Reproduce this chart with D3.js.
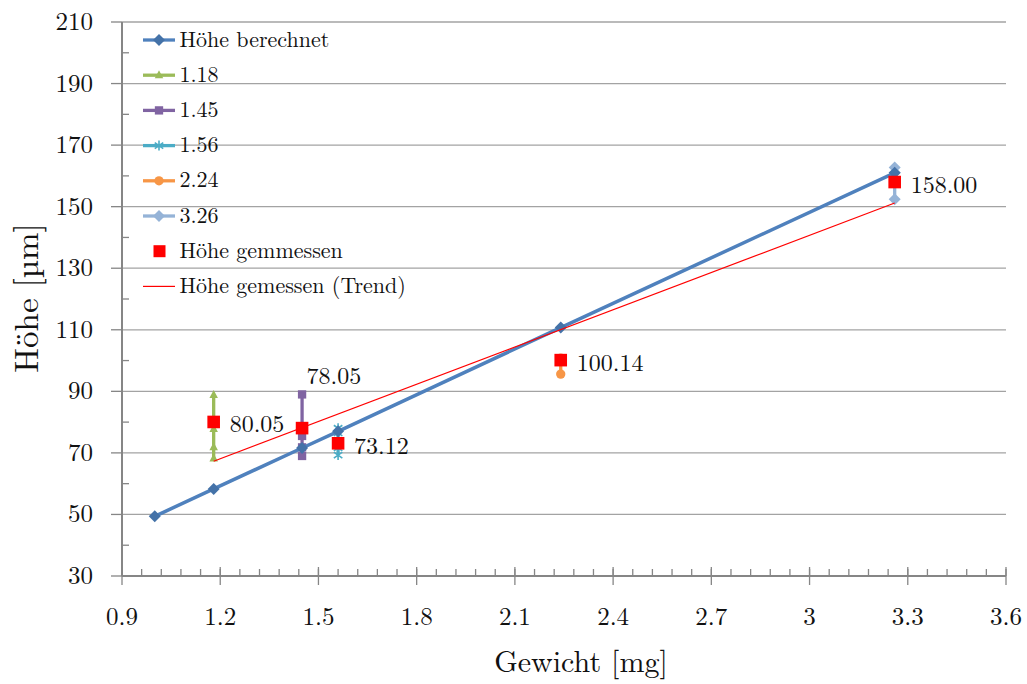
<!DOCTYPE html>
<meta charset="utf-8">
<style>
body{ margin:0; background:#fff; }
</style>
<div id="chart"></div>
<script src="https://cdn.jsdelivr.net/npm/d3@7"></script>
<script>
// computed height line
var calcX = [1.0, 1.18, 1.45, 1.56, 2.24, 3.26]
var calcY = [49.4, 58.3, 71.6, 77.0, 110.7, 161.0]

// single measurements per weight
var measX = [1.18, 1.45, 1.56, 2.24, 3.26]
var measNames = ['1.18', '1.45', '1.56', '2.24', '3.26']
var measVals = [
  [88.8, 80.0, 77.8, 71.8, 68.2],
  [89.0, 78.0, 75.5, 71.8, 69.0],
  [78.0, 76.5, 73.0, 71.6, 69.3],
  [95.6, 100.2, 100.8],
  [162.7, 161.0, 158.0, 152.4]
]
var meanVals = [80.05, 78.05, 73.12, 100.14, 158.00]
var meanLabels = ['80.05', '78.05', '73.12', '100.14', '158.00']

var xTicks = [0.9, 1.2, 1.5, 1.8, 2.1, 2.4, 2.7, 3, 3.3, 3.6]
var yTicks = [30, 50, 70, 90, 110, 130, 150, 170, 190, 210]

var colors = ['#9BBB59', '#8064A2', '#4BACC6', '#F79646', '#95B3D7']
var shapes = ['triangle', 'square', 'asterisk', 'circle', 'diamond']
var msize = [5, 5.2, 5, 5.5, 6]

var W = 1027, H = 684
var m = {l: 122, t: 22, r: 21, b: 108}

var x = d3.scaleLinear().domain([0.9, 3.6]).range([m.l, W - m.r])
var y = d3.scaleLinear().domain([30, 210]).range([H - m.b, m.t])

var svg = d3.select('#chart').append('svg')
    .attr('width', W).attr('height', H)
    .attr('font-family', 'Latin Modern Roman, CMU Serif, Liberation Serif, serif')

function txt(g, tx, ty, s, size, anchor, rot){
  return g.append('text')
    .attr('transform', 'translate(' + tx + ',' + ty + ')' + (rot ? ' rotate(' + rot + ')' : ''))
    .attr('font-size', size).attr('text-anchor', anchor || 'start')
    .attr('fill', '#111')
    .text(s)
}

// grid
svg.append('g').selectAll('line').data(yTicks.slice(1)).join('line')
    .attr('x1', m.l).attr('x2', W - m.r)
    .attr('y1', function(d){ return y(d) }).attr('y2', function(d){ return y(d) })
    .attr('stroke', '#a3a3a3').attr('stroke-width', 1.3)

// axes
var ax = svg.append('g').attr('stroke', '#868686').attr('stroke-width', 1.3)
ax.append('line').attr('x1', m.l).attr('x2', W - m.r)
    .attr('y1', y(30)).attr('y2', y(30)).attr('stroke-width', 2)
ax.append('line').attr('x1', m.l).attr('x2', m.l)
    .attr('y1', y(30)).attr('y2', y(210)).attr('stroke-width', 2)

var xMinor = d3.range(0, 46).map(function(i){ return 0.9 + i * 0.06 })
ax.selectAll('.xm').data(xMinor).join('line')
    .attr('x1', function(d){ return x(d) }).attr('x2', function(d){ return x(d) })
    .attr('y1', y(30) - 7).attr('y2', y(30))
ax.selectAll('.xM').data(xTicks).join('line')
    .attr('x1', function(d){ return x(d) }).attr('x2', function(d){ return x(d) })
    .attr('y1', y(30) - 9).attr('y2', y(30) + 9)
var yMinor = d3.range(40, 210, 20)
ax.selectAll('.ym').data(yMinor).join('line')
    .attr('x1', m.l).attr('x2', m.l + 7)
    .attr('y1', function(d){ return y(d) }).attr('y2', function(d){ return y(d) })
ax.selectAll('.yM').data(yTicks).join('line')
    .attr('x1', m.l - 11).attr('x2', m.l)
    .attr('y1', function(d){ return y(d) }).attr('y2', function(d){ return y(d) })

var gt = svg.append('g')
xTicks.forEach(function(d){ txt(gt, x(d), y(30) + 49, d, 25, 'middle') })
yTicks.forEach(function(d){ txt(gt, 93, y(d) + 8, d, 25, 'end') })

txt(svg, 581, 672, 'Gewicht [mg]', 30, 'middle')
txt(svg, 38, 298, 'Höhe [µm]', 33, 'middle', -90)

function marker(g, shape, cx, cy, color, s){
  if (shape == 'diamond'){
    g.append('path').attr('d', 'M' + cx + ',' + (cy - s) + 'L' + (cx + s) + ',' + cy + 'L' + cx + ',' + (cy + s) + 'L' + (cx - s) + ',' + cy + 'Z')
      .attr('fill', color)
  } else if (shape == 'square'){
    g.append('rect').attr('x', cx - s * 0.8).attr('y', cy - s * 0.8)
      .attr('width', s * 1.6).attr('height', s * 1.6).attr('fill', color)
  } else if (shape == 'triangle'){
    g.append('path').attr('d', 'M' + cx + ',' + (cy - s) + 'L' + (cx + s * 0.85) + ',' + (cy + s * 0.6) + 'L' + (cx - s * 0.85) + ',' + (cy + s * 0.6) + 'Z')
      .attr('fill', color)
  } else if (shape == 'circle'){
    g.append('circle').attr('cx', cx).attr('cy', cy).attr('r', s * 0.85).attr('fill', color)
  } else if (shape == 'asterisk'){
    var p = 'M' + cx + ',' + (cy - s) + 'L' + cx + ',' + (cy + s) +
      'M' + (cx - s * 0.85) + ',' + (cy - s * 0.6) + 'L' + (cx + s * 0.85) + ',' + (cy + s * 0.6) +
      'M' + (cx + s * 0.85) + ',' + (cy - s * 0.6) + 'L' + (cx - s * 0.85) + ',' + (cy + s * 0.6)
    g.append('path').attr('d', p).attr('stroke', color).attr('stroke-width', 1.6).attr('fill', 'none')
  }
}

var line = d3.line().x(function(d){ return x(d[0]) }).y(function(d){ return y(d[1]) })

// measurement series
var gm = svg.append('g')
measVals.forEach(function(vals, i){
  var pts = vals.map(function(v){ return [measX[i], v] })
  gm.append('path').attr('d', line(pts)).attr('fill', 'none')
    .attr('stroke', colors[i]).attr('stroke-width', 3.3)
  pts.forEach(function(p){ marker(gm, shapes[i], x(p[0]), y(p[1]), colors[i], msize[i]) })
})

// calculated line
var calcPts = calcX.map(function(d, i){ return [d, calcY[i]] })
svg.append('path').attr('d', line(calcPts)).attr('fill', 'none')
    .attr('stroke', '#4F81BD').attr('stroke-width', 3.5)
var gc = svg.append('g')
calcPts.forEach(function(p){ marker(gc, 'diamond', x(p[0]), y(p[1]), '#4472A8', 6) })

// trend line (least squares of measured means)
var mx = d3.mean(measX), my = d3.mean(meanVals)
var sxy = d3.sum(measX, function(d, i){ return (d - mx) * (meanVals[i] - my) })
var sxx = d3.sum(measX, function(d){ return (d - mx) * (d - mx) })
var slope = sxy / sxx, icpt = my - slope * mx
var xr = d3.extent(measX)
svg.append('path').attr('d', line(xr.map(function(d){ return [d, icpt + slope * d] })))
    .attr('stroke', '#FF0000').attr('stroke-width', 1.2).attr('fill', 'none')

// mean squares + labels
svg.append('g').selectAll('rect').data(meanVals).join('rect')
    .attr('x', function(d, i){ return x(measX[i]) - 6.3 })
    .attr('y', function(d){ return y(d) - 6.3 })
    .attr('width', 12.6).attr('height', 12.6).attr('fill', '#FF0000')
var gl = svg.append('g')
meanLabels.forEach(function(d, i){
  if (i == 1) txt(gl, x(measX[i]) + 4.5, y(measVals[1][0]) - 10, d, 24, 'start')
  else txt(gl, x(measX[i]) + 16, y(meanVals[i]) + 10.5, d, 24, 'start')
})

// legend
var leg = svg.append('g')
var items = [{name: 'Höhe berechnet', color: '#4F81BD', mcolor: '#4472A8', shape: 'diamond', s: 6}]
measNames.forEach(function(n, i){ items.push({name: n, color: colors[i], mcolor: colors[i], shape: shapes[i], s: msize[i]}) })
items.push({name: 'Höhe gemmessen', shape: 'red'})
items.push({name: 'Höhe gemessen (Trend)', shape: 'trend'})
items.forEach(function(it, i){
  var ly = 40 + i * 35.2
  if (it.shape == 'red'){
    leg.append('rect').attr('x', 153.5).attr('y', ly - 6).attr('width', 12).attr('height', 12).attr('fill', '#FF0000')
  } else if (it.shape == 'trend'){
    leg.append('line').attr('x1', 143).attr('x2', 175).attr('y1', ly).attr('y2', ly)
      .attr('stroke', '#FF0000').attr('stroke-width', 1.2)
  } else {
    leg.append('line').attr('x1', 143).attr('x2', 175).attr('y1', ly).attr('y2', ly)
      .attr('stroke', it.color).attr('stroke-width', 3.3)
    marker(leg, it.shape, 159, ly, it.mcolor, it.s)
  }
  txt(leg, 179.5, ly + 6.5, it.name, 22, 'start')
})
</script>
